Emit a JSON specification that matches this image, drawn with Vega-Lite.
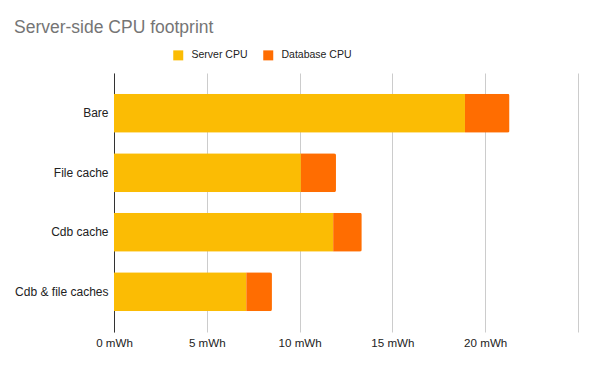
{
  "$schema": "https://vega.github.io/schema/vega-lite/v6.json",
  "width": 464,
  "height": 259,
  "autosize": {"type": "none"},
  "padding": {"left": 114, "top": 73, "right": 16, "bottom": 35},
  "background": "white",
  "title": {
    "text": "Server-side CPU footprint",
    "anchor": "start",
    "frame": "group",
    "font": "Liberation Sans",
    "fontSize": 17.5,
    "fontWeight": "normal",
    "color": "#757575",
    "baseline": "alphabetic",
    "dx": -100,
    "offset": 0
  },
  "config": {
    "view": {"stroke": null},
    "font": "Liberation Sans"
  },
  "data": {
    "values": [
      {"config": "Bare", "series": "Server CPU", "mWh": 18.91},
      {"config": "Bare", "series": "Database CPU", "mWh": 2.40},
      {"config": "File cache", "series": "Server CPU", "mWh": 10.07},
      {"config": "File cache", "series": "Database CPU", "mWh": 1.89},
      {"config": "Cdb cache", "series": "Server CPU", "mWh": 11.81},
      {"config": "Cdb cache", "series": "Database CPU", "mWh": 1.54},
      {"config": "Cdb & file caches", "series": "Server CPU", "mWh": 7.13},
      {"config": "Cdb & file caches", "series": "Database CPU", "mWh": 1.38}
    ]
  },
  "mark": {"type": "bar", "cornerRadiusEnd": 2},
  "encoding": {
    "y": {
      "field": "config",
      "type": "nominal",
      "sort": ["Bare", "File cache", "Cdb cache", "Cdb & file caches"],
      "scale": {"paddingInner": 0.345, "paddingOuter": 0.35},
      "axis": {
        "title": null,
        "ticks": false,
        "domainColor": "#333333",
        "labelFontSize": 12,
        "labelColor": "#222222",
        "labelPadding": 6,
        "labelFont": "Liberation Sans"
      }
    },
    "x": {
      "field": "mWh",
      "type": "quantitative",
      "stack": "zero",
      "scale": {"domain": [0, 25], "nice": false},
      "axis": {
        "title": null,
        "values": [0, 5, 10, 15, 20, 25],
        "labelExpr": "datum.value == 25 ? '' : datum.value + ' mWh'",
        "labelFlush": false,
        "domain": false,
        "ticks": false,
        "grid": true,
        "gridColor": "#cccccc",
        "labelFontSize": 11.6,
        "labelColor": "#222222",
        "labelPadding": 5,
        "labelFont": "Liberation Sans"
      }
    },
    "color": {
      "field": "series",
      "type": "nominal",
      "scale": {"domain": ["Server CPU", "Database CPU"], "range": ["#FBBC04", "#FF6D01"]},
      "legend": {
        "title": null,
        "orient": "none",
        "direction": "horizontal",
        "legendX": 59,
        "legendY": -23,
        "padding": 0,
        "symbolType": "square",
        "symbolSize": 100,
        "symbolStrokeWidth": 0,
        "symbolOpacity": 1,
        "labelFontSize": 10.5,
        "labelColor": "#222222",
        "labelOffset": 8,
        "columnPadding": 15,
        "labelFont": "Liberation Sans"
      }
    },
    "order": {"field": "series", "sort": "descending"}
  }
}
